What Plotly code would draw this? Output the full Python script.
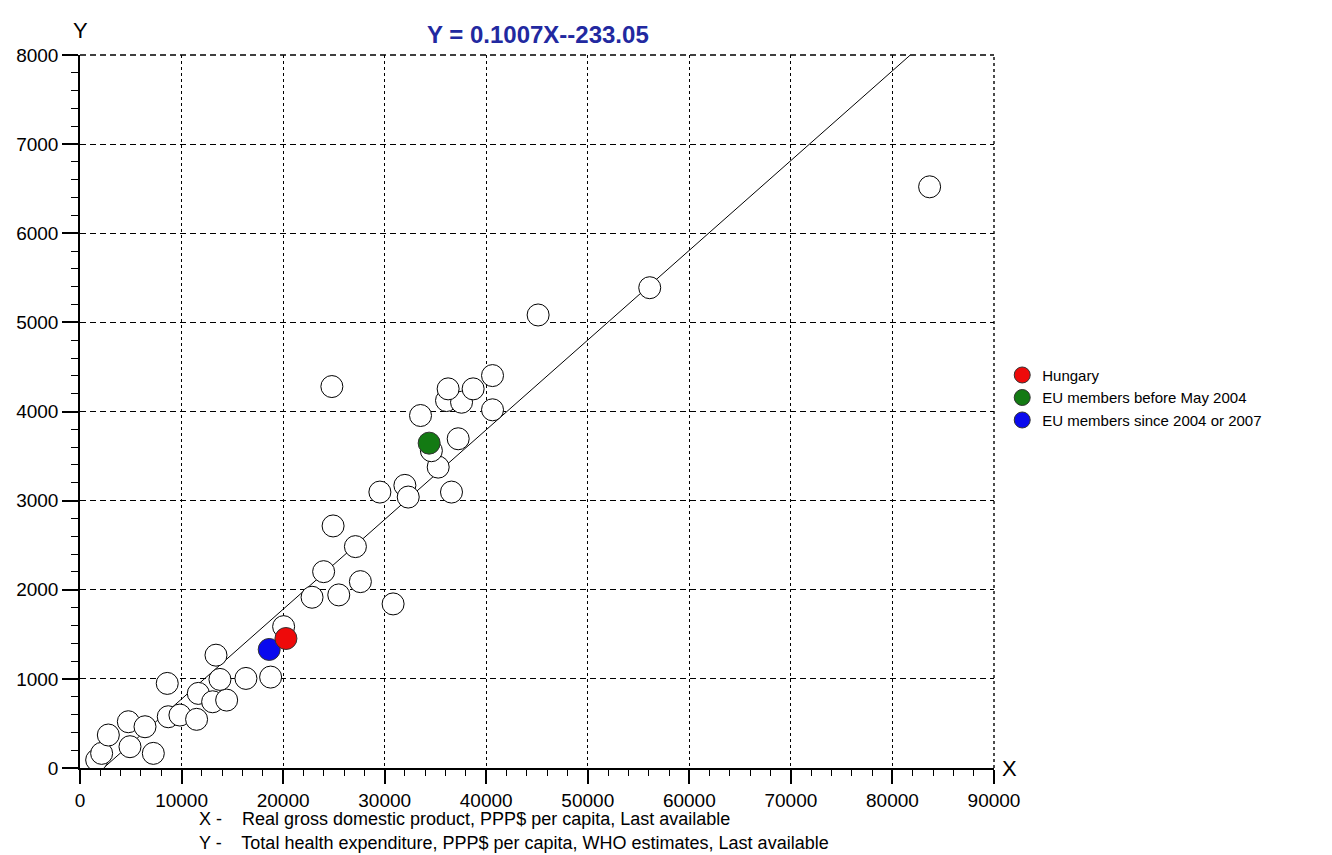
import plotly.graph_objects as go

# ---- data ----
other_x = [1640, 2130, 2790, 4920, 4760, 6400, 7220, 8690, 9840, 11480,
           8590, 11650, 13060, 14440, 13780, 13390, 16340, 18770, 20050, 22850,
           25480, 23990, 27610, 30830, 24920, 27120, 29530, 31990, 32320, 36580,
           35270, 34600, 37240, 33530, 40620, 36090, 37570, 36250, 38710, 40620,
           24800, 45110, 56100, 83660]
other_y = [90, 164, 370, 239, 519, 463, 164, 575, 594, 546,
           949, 837, 743, 762, 994, 1266, 1005, 1020, 1586, 1916,
           1942, 2203, 2091, 1841, 2716, 2484, 3096, 3171, 3040, 3096,
           3376, 3560, 3694, 3955, 4019, 4123, 4104, 4254, 4254, 4403,
           4280, 5083, 5389, 6521]

hungary_x = [20280]
hungary_y = [1453]
eu_old_x = [34380]
eu_old_y = [3645]
eu_new_x = [18630]
eu_new_y = [1330]

slope = 0.1007
intercept = -233.05
y_range = [0, 8000]
x_range = [0, 90000]

x_ticks = [0, 10000, 20000, 30000, 40000, 50000, 60000, 70000, 80000, 90000]
y_ticks = [0, 1000, 2000, 3000, 4000, 5000, 6000, 7000, 8000]

title_text = "Y = 0.1007X--233.05"
x_desc = "X -    Real gross domestic product, PPP$ per capita, Last available"
y_desc = "Y -    Total health expenditure, PPP$ per capita, WHO estimates, Last available"

# trend line endpoints from the fit, spanning the y range
line_x = [(v - intercept) / slope for v in y_range]
line_y = list(y_range)

FONT = "Liberation Sans, Arial, sans-serif"

fig = go.Figure()
fig.add_trace(go.Scatter(x=line_x, y=line_y, mode="lines",
                         line=dict(color="black", width=1), showlegend=False,
                         hoverinfo="skip"))
fig.add_trace(go.Scatter(x=other_x, y=other_y, mode="markers", showlegend=False,
                         marker=dict(size=22, color="white",
                                     line=dict(color="black", width=1))))
fig.add_trace(go.Scatter(x=eu_new_x, y=eu_new_y, mode="markers",
                         name="EU members since 2004 or 2007",
                         marker=dict(size=22, color="#0a0aee",
                                     line=dict(color="#333333", width=1))))
fig.add_trace(go.Scatter(x=eu_old_x, y=eu_old_y, mode="markers",
                         name="EU members before May 2004",
                         marker=dict(size=22, color="#137a13",
                                     line=dict(color="#333333", width=1))))
fig.add_trace(go.Scatter(x=hungary_x, y=hungary_y, mode="markers",
                         name="Hungary",
                         marker=dict(size=22, color="#ee0a0a",
                                     line=dict(color="#333333", width=1))))

axis_common = dict(showline=True, linecolor="black", linewidth=1.5,
                   ticks="outside", tickcolor="black", tickwidth=1.5,
                   showgrid=True, gridcolor="black", gridwidth=1.4,
                   zeroline=False, tickformat="d",
                   tickfont=dict(family=FONT, size=19, color="black"))

fig.update_xaxes(range=x_range, tickvals=x_ticks, griddash="3px,3px", ticklen=14,
                 minor=dict(ticks="outside", ticklen=6, dtick=2000,
                            tickcolor="black", tickwidth=1.2, showgrid=False),
                 **axis_common)
fig.update_yaxes(range=y_range, tickvals=y_ticks, griddash="6px,4px", ticklen=16,
                 minor=dict(ticks="outside", ticklen=7, dtick=200,
                            tickcolor="black", tickwidth=1.2, showgrid=False),
                 **axis_common)

# grid lines at the far (top / right) edges of the plotting area
fig.add_shape(type="line", xref="paper", yref="paper", x0=0, x1=1, y0=1, y1=1,
              line=dict(color="black", width=1.4, dash="6px,4px"), layer="below")
fig.add_shape(type="line", xref="paper", yref="paper", x0=1, x1=1, y0=0, y1=1,
              line=dict(color="black", width=1.4, dash="3px,3px"), layer="below")

fig.update_layout(
    width=1332, height=855,
    margin=dict(l=80, r=338, t=55, b=87),
    plot_bgcolor="white", paper_bgcolor="white",
    font=dict(family=FONT, size=16, color="black"),
    legend=dict(x=1.009, y=0.574, xanchor="left", yanchor="top",
                traceorder="reversed",
                font=dict(family=FONT, size=15, color="black"),
                itemsizing="trace", tracegroupgap=0,
                bgcolor="rgba(0,0,0,0)"),
    annotations=[
        dict(text="<b>" + title_text + "</b>", xref="paper", yref="paper",
             x=(538 - 80) / 914, y=1, yshift=21, xanchor="center", yanchor="middle",
             showarrow=False,
             font=dict(family=FONT, size=24, color="#2229a0")),
        dict(text="Y", xref="paper", yref="paper", x=0, y=1, yshift=25,
             xanchor="center", yanchor="middle", showarrow=False,
             font=dict(family=FONT, size=22, color="black")),
        dict(text="X", xref="paper", yref="paper", x=1, y=0, xshift=6,
             xanchor="left", yanchor="middle", showarrow=False,
             font=dict(family=FONT, size=22, color="black")),
        dict(text=x_desc, xref="paper", yref="paper", x=(197 - 80) / 914, y=0, yshift=-51,
             xanchor="left", yanchor="middle", showarrow=False,
             font=dict(family=FONT, size=18, color="black")),
        dict(text=y_desc, xref="paper", yref="paper", x=(197 - 80) / 914, y=0, yshift=-75,
             xanchor="left", yanchor="middle", showarrow=False,
             font=dict(family=FONT, size=18, color="black")),
    ],
)

fig.write_html("out.html")
